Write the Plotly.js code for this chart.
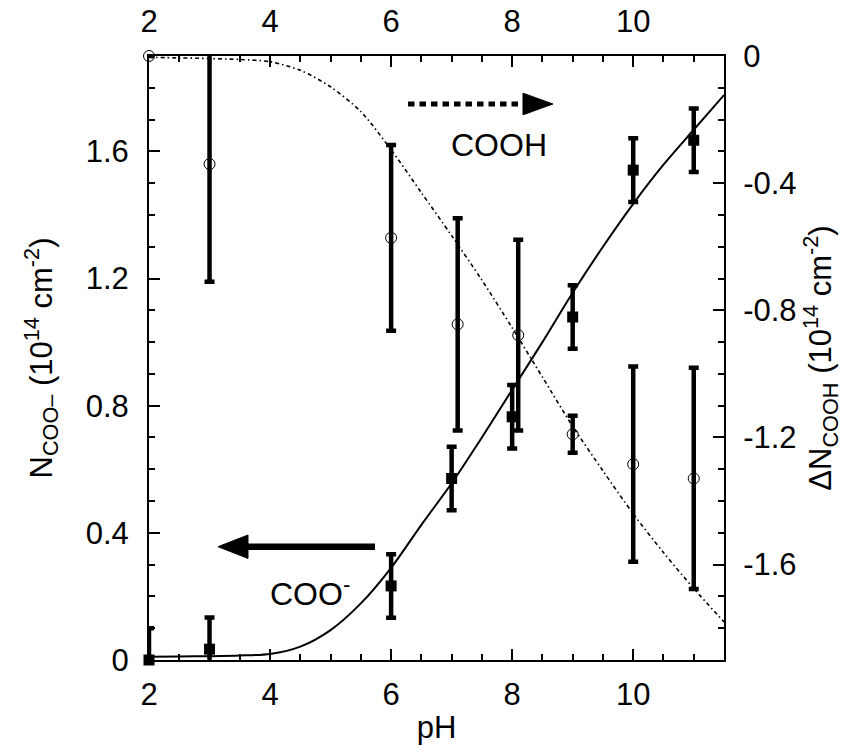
<!DOCTYPE html>
<html><head><meta charset="utf-8">
<script src="https://cdn.plot.ly/plotly-3.0.1.min.js"></script>
<style>html,body{margin:0;padding:0;background:#fff}#chart{width:859px;height:753px}</style>
</head><body><div id="chart"></div><script>
// COO- surface density (filled squares, left axis)
const pHCOO = [2, 3, 6, 7, 8, 9, 10, 11];
const nCOO = [0.0, 0.034, 0.233, 0.571, 0.765, 1.079, 1.541, 1.635];
const nCOOErr = [0.1, 0.1, 0.1, 0.1, 0.1, 0.1, 0.1, 0.1];
// COOH change (open circles, right axis)
const pHCOOH = [2, 3, 6, 7.1, 8.1, 9, 10, 11];
const dNCOOH = [0, -0.34, -0.572, -0.844, -0.878, -1.19, -1.284, -1.329];
const dNCOOHErr = [0, 0.37, 0.292, 0.334, 0.30, 0.058, 0.307, 0.348];
// fitted curves
const pHFit = [2, 2.5, 3, 3.5, 4, 4.5, 5, 5.5, 6, 6.5, 7, 7.5, 8, 8.5, 9, 9.5, 10, 10.5, 11, 11.5];
const nCOOFit = [0.010, 0.011, 0.012, 0.014, 0.019, 0.042, 0.094, 0.178, 0.29, 0.425, 0.556, 0.70, 0.85, 1.00, 1.155, 1.30, 1.435, 1.558, 1.668, 1.777];
const dNCOOHFit = [-0.004, -0.006, -0.008, -0.011, -0.018, -0.045, -0.097, -0.175, -0.295, -0.43, -0.565, -0.705, -0.855, -1.01, -1.165, -1.305, -1.44, -1.562, -1.675, -1.78];
// tick labels
const xTickVals = [2, 4, 6, 8, 10];
const xTickText = ['2', '4', '6', '8', '10'];
const yLeftTickVals = [0, 0.4, 0.8, 1.2, 1.6];
const yLeftTickText = ['0', '0.4', '0.8', '1.2', '1.6'];
const yRightTickVals = [0, -0.4, -0.8, -1.2, -1.6];
const yRightTickText = ['0', '-0.4', '-0.8', '-1.2', '-1.6'];

const FONT = 'Arial, "Liberation Sans", Helvetica, sans-serif';
const black = '#000';

const traces = [
  {x: pHFit, y: nCOOFit, mode: 'lines', line: {color: black, width: 2, shape: 'spline', smoothing: 0.8}, xaxis: 'x', yaxis: 'y', hoverinfo: 'skip'},
  {x: pHFit, y: dNCOOHFit, mode: 'lines', line: {color: black, width: 1.6, shape: 'spline', smoothing: 0.8, dash: '4px,3px,1.5px,3px'}, xaxis: 'x', yaxis: 'y2', hoverinfo: 'skip'},
  {x: pHCOO, y: nCOO, mode: 'markers', marker: {size: 1, color: 'rgba(0,0,0,0)'}, cliponaxis: true,
   error_y: {type: 'data', array: nCOOErr, color: black, thickness: 4.5, width: 5}, xaxis: 'x', yaxis: 'y', hoverinfo: 'skip'},
  {x: pHCOOH, y: dNCOOH, mode: 'markers', marker: {size: 1, color: 'rgba(0,0,0,0)'}, cliponaxis: true,
   error_y: {type: 'data', array: dNCOOHErr, color: black, thickness: 4.5, width: 5}, xaxis: 'x', yaxis: 'y2', hoverinfo: 'skip'},
  {x: pHCOO, y: nCOO, mode: 'markers', marker: {symbol: 'square', size: 11, color: black}, cliponaxis: false, xaxis: 'x', yaxis: 'y'},
  {x: pHCOOH, y: dNCOOH, mode: 'markers', marker: {symbol: 'circle-open', size: 11, color: black, line: {width: 1, color: black}}, cliponaxis: false, xaxis: 'x', yaxis: 'y2'},
  // same points referenced on the top axis so that it is drawn
  {x: pHCOO, y: nCOO, mode: 'markers', marker: {size: 1, color: 'rgba(0,0,0,0)'}, xaxis: 'x2', yaxis: 'y', hoverinfo: 'skip'}
];

const minorCommon = {tickmode: 'linear', ticks: 'inside', ticklen: 6, tickwidth: 2, tickcolor: black, showgrid: false};
const tickCommon = {ticks: 'inside', ticklen: 11, tickwidth: 2, tickcolor: black, showline: true, linewidth: 2, linecolor: black,
  showgrid: false, zeroline: false, tickfont: {family: FONT, size: 31, color: black}, ticklabelstandoff: 11, automargin: false};
const titleFont = {family: FONT, size: 31, color: black};

// paper-coordinate helpers for arrows and labels
const L = 149, R = 724, T = 56, B = 660;
const px = v => (v - L) / (R - L);
const py = v => (B - v) / (B - T);

const layout = {
  width: 859, height: 753,
  margin: {l: L, r: 859 - R, t: T, b: 753 - B},
  paper_bgcolor: '#fff', plot_bgcolor: '#fff',
  showlegend: false,
  font: {family: FONT, color: black},
  xaxis: Object.assign({}, tickCommon, {range: [2, 11.5], tickmode: 'array', tickvals: xTickVals, ticktext: xTickText, ticklabelstandoff: 6,
    minor: Object.assign({}, minorCommon, {dtick: 0.5, tick0: 2}),
    title: {text: 'pH', font: titleFont, standoff: 5}}),
  xaxis2: Object.assign({}, tickCommon, {range: [2, 11.5], overlaying: 'x', side: 'top', anchor: 'y', tickmode: 'array', tickvals: xTickVals, ticktext: xTickText, ticklabelstandoff: 10,
    minor: Object.assign({}, minorCommon, {dtick: 0.5, tick0: 2})}),
  yaxis: Object.assign({}, tickCommon, {range: [0, 1.9], tickmode: 'array', tickvals: yLeftTickVals, ticktext: yLeftTickText, ticklabelstandoff: 12,
    minor: Object.assign({}, minorCommon, {dtick: 0.1, tick0: 0}),
    title: {text: 'N<sub>COO–</sub> (10<sup>14</sup> cm<sup>-2</sup>)', font: titleFont, standoff: 24}}),
  yaxis2: Object.assign({}, tickCommon, {range: [-1.9, 0], overlaying: 'y', side: 'right', anchor: 'x', tickmode: 'array', tickvals: yRightTickVals, ticktext: yRightTickText, ticklabelstandoff: 11,
    minor: Object.assign({}, minorCommon, {dtick: 0.1, tick0: 0}),
    title: {text: 'ΔN<sub>COOH</sub> (10<sup>14</sup> cm<sup>-2</sup>)', font: titleFont, standoff: 14}}),
  shapes: [
    {type: 'line', xref: 'paper', yref: 'paper', x0: px(375), x1: px(244), y0: py(546.7), y1: py(546.7), line: {color: black, width: 6.5}},
    {type: 'path', xref: 'paper', yref: 'paper', path: `M ${px(218)} ${py(546.7)} L ${px(248)} ${py(535)} L ${px(248)} ${py(558.4)} Z`, fillcolor: black, line: {color: black, width: 1}},
    {type: 'line', xref: 'paper', yref: 'paper', x0: px(408), x1: px(524), y0: py(104), y1: py(104), line: {color: black, width: 5, dash: '6.5px,5px'}},
    {type: 'path', xref: 'paper', yref: 'paper', path: `M ${px(553)} ${py(104)} L ${px(523)} ${py(93.2)} L ${px(523)} ${py(114.8)} Z`, fillcolor: black, line: {color: black, width: 1}}
  ],
  annotations: [
    {xref: 'paper', yref: 'paper', x: px(499), y: py(145), text: 'COOH', showarrow: false, xanchor: 'center', yanchor: 'middle', font: {family: FONT, size: 32, color: black}},
    {xref: 'paper', yref: 'paper', x: px(310), y: py(592), text: 'COO<sup>-</sup>', showarrow: false, xanchor: 'center', yanchor: 'middle', font: {family: FONT, size: 32, color: black}}
  ]
};

Plotly.newPlot('chart', traces, layout, {displayModeBar: false, staticPlot: true});
</script></body></html>
